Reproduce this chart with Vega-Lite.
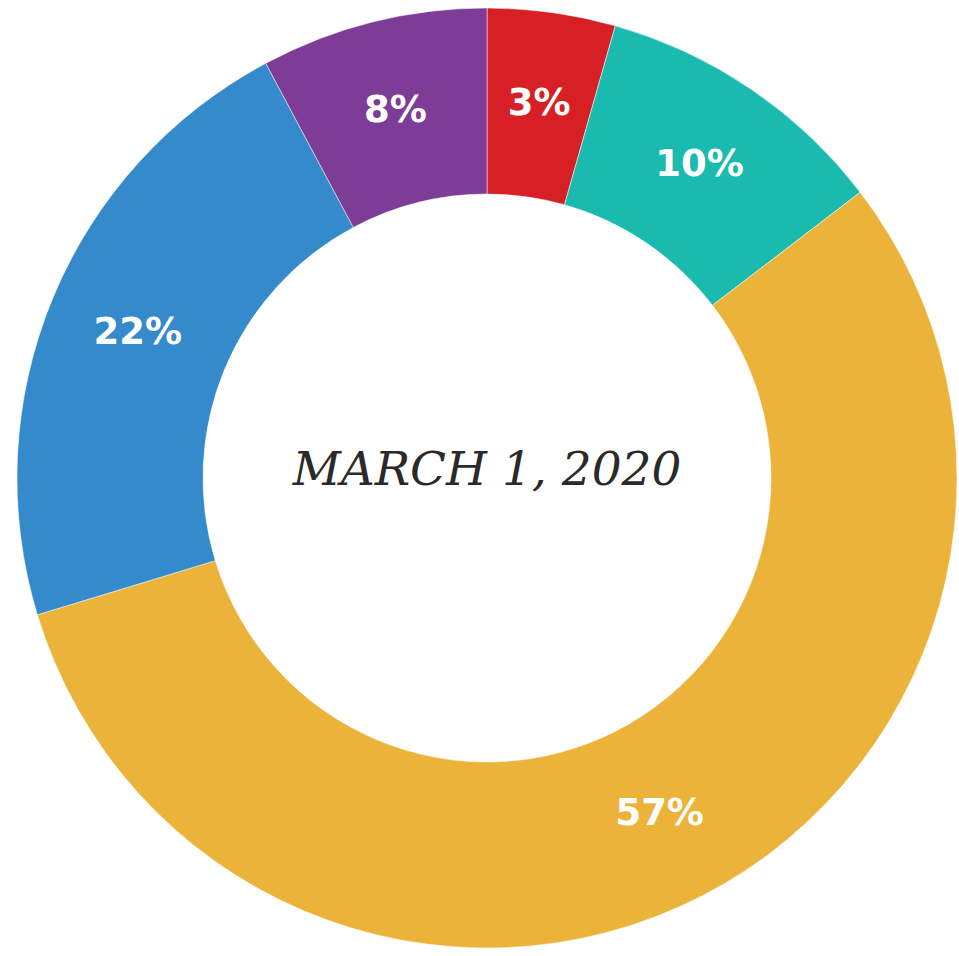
{
  "$schema": "https://vega.github.io/schema/vega-lite/v6.json",
  "width": 944,
  "height": 956,
  "autosize": {"type": "none"},
  "padding": {"left": 15, "right": 0, "top": 0, "bottom": 0},
  "background": "white",
  "view": {"stroke": null},
  "data": {
    "values": [
      {"i": 1, "segment": "Red", "value": 4.4, "label": "3%"},
      {"i": 2, "segment": "Teal", "value": 10.2, "label": "10%"},
      {"i": 3, "segment": "Yellow", "value": 55.7, "label": "57%"},
      {"i": 4, "segment": "Blue", "value": 21.9, "label": "22%"},
      {"i": 5, "segment": "Purple", "value": 7.8, "label": "8%"}
    ]
  },
  "encoding": {
    "theta": {"field": "value", "type": "quantitative", "stack": true},
    "order": {"field": "i", "type": "quantitative"},
    "color": {
      "field": "segment",
      "type": "nominal",
      "scale": {
        "domain": ["Red", "Teal", "Yellow", "Blue", "Purple"],
        "range": ["#D71F26", "#1BBAAF", "#EBB33A", "#348ACA", "#7D3C96"]
      },
      "legend": null
    }
  },
  "layer": [
    {"mark": {"type": "arc", "outerRadius": 470, "innerRadius": 284, "stroke": "white", "strokeWidth": 0.5}},
    {
      "mark": {"type": "text", "radius": 378, "font": "DejaVu Sans", "fontWeight": "bold", "fontSize": 37, "fill": "white", "baseline": "middle", "align": "center"},
      "encoding": {"text": {"field": "label"}, "color": {"value": "white"}}
    },
    {
      "data": {"values": [{"title": "MARCH 1, 2020"}]},
      "mark": {"type": "text", "x": {"expr": "width/2"}, "y": {"expr": "height/2 - 7"}, "font": "DejaVu Serif", "fontStyle": "italic", "fontSize": 47, "fill": "#2a2a2a", "baseline": "middle", "align": "center"},
      "encoding": {"text": {"field": "title"}, "theta": null, "order": null, "color": null}
    }
  ]
}
